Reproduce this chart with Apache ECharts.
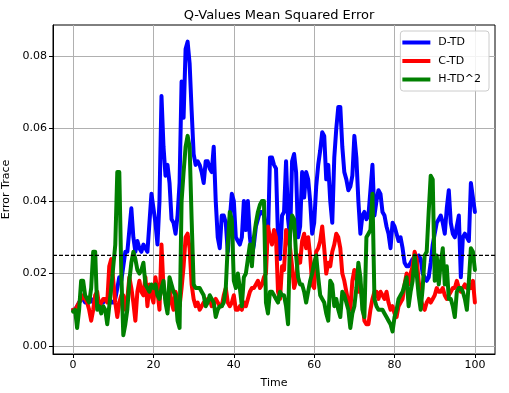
<!DOCTYPE html>
<html><head><meta charset="utf-8">
<script src="https://cdn.jsdelivr.net/npm/echarts@6/dist/echarts.min.js"></script>
<style>html,body{margin:0;padding:0;background:#fff}#c{width:509px;height:393px}</style>
</head><body><div id="c"></div>
<script>
// sampled every 0.5 time units, from 0 to 100
const timeStep = 0.5;
const xTicks = [0, 20, 40, 60, 80, 100];
const yTicks = [0, 0.02, 0.04, 0.06, 0.08];
const threshold = 0.025;
const xRange = [-5, 105];
const seriesNames = ['D-TD', 'C-TD', 'H-TD^2'];

const dTD = [
0.010,0.010,0.011,0.012,0.013,0.013,0.012,0.012,0.013,0.013,
0.012,0.012,0.011,0.011,0.012,0.012,0.013,0.013,0.013,0.012,
0.012,0.013,0.016,0.019,0.018,0.022,0.026,0.026,0.032,0.038,
0.030,0.026,0.029,0.027,0.026,0.028,0.027,0.026,0.034,0.042,
0.038,0.034,0.028,0.040,0.069,0.055,0.047,0.050,0.045,0.035,
0.034,0.031,0.036,0.045,0.073,0.063,0.082,0.084,0.078,0.065,
0.053,0.050,0.051,0.050,0.048,0.045,0.051,0.051,0.049,0.048,
0.055,0.040,0.030,0.027,0.036,0.036,0.034,0.026,0.035,0.042,
0.040,0.030,0.029,0.028,0.030,0.040,0.032,0.040,0.030,0.025,
0.028,0.033,0.035,0.037,0.037,0.036,0.031,0.030,0.052,0.052,
0.050,0.049,0.030,0.024,0.036,0.037,0.051,0.035,0.030,0.051,
0.053,0.048,0.030,0.033,0.048,0.041,0.048,0.046,0.040,0.031,
0.034,0.044,0.050,0.054,0.059,0.058,0.046,0.050,0.040,0.034,
0.052,0.060,0.066,0.066,0.055,0.048,0.046,0.043,0.044,0.047,
0.058,0.052,0.040,0.031,0.036,0.037,0.035,0.036,0.043,0.050,
0.036,0.040,0.043,0.042,0.037,0.036,0.033,0.031,0.027,0.034,
0.033,0.031,0.029,0.030,0.027,0.023,0.022,0.022,0.023,0.024,
0.024,0.023,0.025,0.024,0.020,0.019,0.018,0.019,0.023,0.028,
0.031,0.034,0.035,0.036,0.034,0.031,0.038,0.043,0.034,0.031,
0.030,0.033,0.036,0.019,0.030,0.031,0.030,0.029,0.045,0.041,
0.037];

const cTD = [
0.010,0.010,0.011,0.012,0.013,0.014,0.013,0.012,0.010,0.007,
0.010,0.014,0.015,0.011,0.012,0.013,0.013,0.012,0.022,0.024,
0.018,0.012,0.008,0.012,0.014,0.014,0.010,0.013,0.019,0.016,
0.012,0.007,0.015,0.018,0.015,0.014,0.019,0.011,0.017,0.014,
0.012,0.019,0.015,0.010,0.028,0.016,0.013,0.010,0.016,0.012,
0.010,0.015,0.013,0.011,0.016,0.022,0.030,0.031,0.027,0.017,
0.013,0.011,0.012,0.010,0.011,0.012,0.012,0.013,0.013,0.011,
0.012,0.013,0.012,0.011,0.011,0.014,0.016,0.012,0.011,0.012,
0.014,0.010,0.010,0.011,0.010,0.012,0.011,0.013,0.015,0.016,
0.016,0.017,0.018,0.016,0.017,0.019,0.020,0.033,0.030,0.028,
0.032,0.030,0.015,0.013,0.022,0.021,0.032,0.030,0.027,0.022,
0.016,0.018,0.025,0.023,0.029,0.031,0.027,0.030,0.025,0.017,
0.016,0.026,0.027,0.029,0.033,0.027,0.020,0.023,0.022,0.026,
0.028,0.031,0.030,0.027,0.020,0.018,0.015,0.012,0.010,0.018,
0.021,0.019,0.015,0.017,0.012,0.007,0.006,0.006,0.010,0.013,
0.015,0.015,0.013,0.015,0.014,0.013,0.015,0.012,0.010,0.011,
0.009,0.008,0.011,0.012,0.013,0.017,0.020,0.017,0.020,0.022,
0.026,0.024,0.018,0.013,0.011,0.010,0.012,0.013,0.012,0.013,
0.014,0.016,0.015,0.015,0.016,0.014,0.013,0.014,0.015,0.016,
0.016,0.018,0.016,0.015,0.016,0.017,0.016,0.017,0.016,0.018,
0.012];

const hTD2 = [
0.0095,0.010,0.005,0.010,0.018,0.018,0.014,0.013,0.012,0.016,
0.026,0.026,0.010,0.011,0.009,0.011,0.010,0.006,0.011,0.016,
0.022,0.028,0.048,0.048,0.020,0.003,0.006,0.010,0.018,0.023,
0.026,0.024,0.021,0.020,0.021,0.023,0.017,0.016,0.015,0.017,
0.016,0.017,0.014,0.013,0.016,0.018,0.012,0.009,0.019,0.017,
0.015,0.014,0.007,0.005,0.040,0.048,0.055,0.058,0.055,0.035,
0.017,0.016,0.016,0.016,0.015,0.014,0.011,0.012,0.014,0.013,
0.012,0.008,0.010,0.011,0.011,0.012,0.016,0.028,0.037,0.035,
0.018,0.016,0.020,0.016,0.011,0.019,0.020,0.024,0.028,0.022,
0.030,0.034,0.037,0.039,0.040,0.040,0.012,0.009,0.015,0.015,
0.014,0.013,0.012,0.015,0.014,0.014,0.011,0.006,0.031,0.036,
0.035,0.025,0.019,0.017,0.017,0.015,0.012,0.015,0.018,0.020,
0.023,0.025,0.019,0.014,0.013,0.012,0.009,0.007,0.018,0.017,
0.011,0.013,0.010,0.008,0.015,0.014,0.012,0.010,0.005,0.009,
0.011,0.016,0.023,0.019,0.010,0.008,0.030,0.031,0.032,0.042,
0.013,0.011,0.010,0.010,0.010,0.009,0.008,0.007,0.006,0.004,
0.008,0.010,0.013,0.014,0.015,0.017,0.019,0.011,0.015,0.018,
0.025,0.020,0.014,0.010,0.016,0.025,0.026,0.037,0.047,0.046,
0.018,0.025,0.017,0.023,0.027,0.017,0.022,0.013,0.013,0.011,
0.008,0.015,0.016,0.016,0.015,0.013,0.010,0.018,0.027,0.026,
0.021];

function pairs(vals){ return vals.map((v,i)=>[i*timeStep, v]); }

const font = 'DejaVu Sans';
const chart = echarts.init(document.getElementById('c'), null, {renderer:'canvas'});
const lineSeries = (name, vals, color) => ({
  name, type:'line', data: pairs(vals), showSymbol:false, symbol:'none',
  lineStyle:{color, width:4, join:'round', cap:'round'}, itemStyle:{color},
  animation:false, z:2
});

chart.setOption({
  backgroundColor:'#fff',
  animation:false,
  title:{text:'Q-Values Mean Squared Error', left:274, top:4, textAlign:'center',
    textStyle:{fontFamily:font, fontSize:13, fontWeight:'normal', color:'#000'}},
  grid:{left:53, right:14, top:25, bottom:39, show:true, borderColor:'#000', borderWidth:1,
    backgroundColor:'transparent', outerBoundsMode:'none', containLabel:false},
  legend:{orient:'vertical', right:20, top:31, data:seriesNames.map(n=>({name:n, icon:'rect'})),
    itemWidth:28, itemHeight:4, itemGap:7.5,
    backgroundColor:'rgba(255,255,255,0.85)', borderColor:'#cccccc', borderWidth:1, borderRadius:3,
    padding:[6,8,6,2],
    textStyle:{fontFamily:font, fontSize:11, color:'#000', padding:[0,0,0,3]}},
  xAxis:{type:'value', min:xRange[0], max:xRange[1], name:'Time', nameLocation:'middle', nameGap:24,
    nameTextStyle:{fontFamily:font, fontSize:11, color:'#000'},
    axisLine:{show:true, onZero:false, lineStyle:{color:'#000', width:1}},
    axisTick:{show:true, customValues:xTicks, length:4, lineStyle:{color:'#000'}},
    axisLabel:{customValues:xTicks, fontFamily:font, fontSize:11, color:'#000', margin:6},
    splitLine:{show:true, lineStyle:{color:'#b0b0b0', width:1}}},
  yAxis:{type:'value', min:-0.0022, max:0.0886, name:'Error Trace', nameLocation:'middle', nameGap:38,
    nameTextStyle:{fontFamily:font, fontSize:11, color:'#000'},
    axisLine:{show:true, onZero:false, lineStyle:{color:'#000', width:1}},
    axisTick:{show:true, customValues:yTicks, length:4, lineStyle:{color:'#000'}},
    axisLabel:{customValues:yTicks, fontFamily:font, fontSize:11, color:'#000', margin:6,
      formatter:v=>v.toFixed(2)},
    splitLine:{show:true, lineStyle:{color:'#b0b0b0', width:1}}},
  series:[
    lineSeries(seriesNames[0], dTD, '#0000ff'),
    lineSeries(seriesNames[1], cTD, '#ff0000'),
    lineSeries(seriesNames[2], hTD2, '#008000'),
    {name:'threshold', type:'line', data:[[xRange[0], threshold],[xRange[1], threshold]],
      showSymbol:false, symbol:'none', silent:true, z:5,
      lineStyle:{color:'#000', type:[4,2], width:1.2}, animation:false}
  ]
});
</script></body></html>
